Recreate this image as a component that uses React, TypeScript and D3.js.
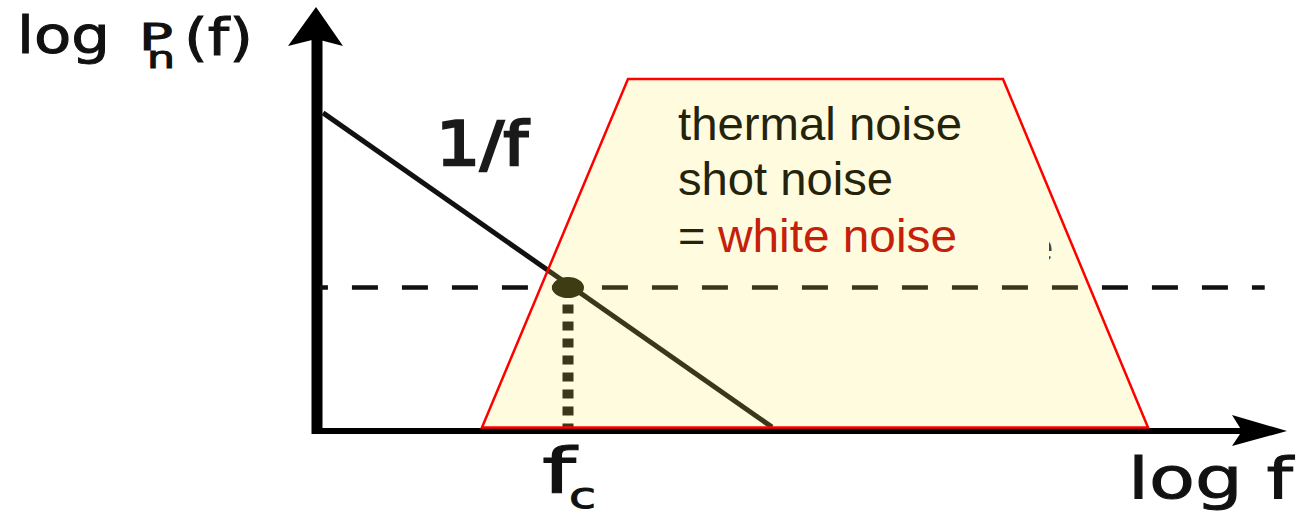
import React from "react";
import * as d3 from "d3";

// Conceptual units: log f on x (0..100), log Pn(f) on y (0..100)
const X_DOMAIN: [number, number] = [0, 100];
const Y_DOMAIN: [number, number] = [0, 100];

const oneOverFLine = [
  { x: 0.52, y: 75.5 },
  { x: 46.85, y: 0.7 },
];
const cornerFreq = { x: 25.8, y: 33.9 };
const noiseFloorX: [number, number] = [0.2, 97.7];
const whiteBand = [
  { x: 16.92, y: 0.6 },
  { x: 31.99, y: 83.57 },
  { x: 70.69, y: 83.57 },
  { x: 85.66, y: 0.6 },
];
const bandLines = ["thermal noise", "shot noise"];
const bandLastPrefix = "= ";
const bandLastHighlight = "white noise";
const slopeLabel = "1/f";
const yLabel = { pre: "log", p: "P", sub: "n", post: "(f)" };
const xLabel = "log f";
const fcLabel = { main: "f", sub: "c" };

const W = 1302;
const H = 513;

export default function App() {
  const x = d3.scaleLinear().domain(X_DOMAIN).range([318, 1287]);
  const y = d3.scaleLinear().domain(Y_DOMAIN).range([430, 10]);
  const line = d3
    .line<{ x: number; y: number }>()
    .x((d) => x(d.x))
    .y((d) => y(d.y));

  const axisY = y(0) + 1;
  const axisX = x(0) - 1;

  const trapPath = line(whiteBand) + "Z";
  const sans = "'DejaVu Sans', sans-serif";
  const arial = "'Liberation Sans', Arial, sans-serif";
  const labelStroke = { stroke: "#111", strokeWidth: 1 };

  return (
    <svg
      width={W}
      height={H}
      style={{ position: "absolute", left: 0, top: 0, background: "#fff" }}
    >
      <defs>
        <clipPath id="ghostClip">
          <rect x={1049} y={225} width={20} height={45} />
        </clipPath>
      </defs>
      {/* axes */}
      <line x1={axisX} y1={35} x2={axisX} y2={axisY + 3} stroke="#000" strokeWidth={11} />
      <path
        d={`M${axisX - 1},7 L${axisX - 29},46 L${axisX - 1},39 L${axisX + 26},46 Z`}
        fill="#000"
      />
      <line x1={axisX - 5} y1={axisY} x2={x(100) - 45} y2={axisY} stroke="#000" strokeWidth={6} />
      <path
        d={`M${x(100)},${axisY} L${x(100) - 55},${axisY - 16} L${x(100) - 45},${axisY} L${x(100) - 55},${axisY + 15} Z`}
        fill="#000"
      />

      {/* noise floor */}
      <line
        x1={x(noiseFloorX[0])}
        y1={y(cornerFreq.y)}
        x2={x(noiseFloorX[1])}
        y2={y(cornerFreq.y)}
        stroke="#111"
        strokeWidth={4.5}
        strokeDasharray="26 24"
        strokeDashoffset={18}
      />
      {/* 1/f line */}
      <path d={line(oneOverFLine) || ""} stroke="#111" strokeWidth={5} fill="none" />
      {/* corner frequency dotted drop */}
      <line
        x1={x(cornerFreq.x)}
        y1={y(cornerFreq.y)}
        x2={x(cornerFreq.x)}
        y2={y(0.6)}
        stroke="#111"
        strokeWidth={11}
        strokeDasharray="9 8"
      />
      <ellipse cx={x(cornerFreq.x)} cy={y(cornerFreq.y)} rx={16} ry={10.5} fill="#151505" />

      {/* ghost letter */}
      <text
        x={1030}
        y={262}
        fontFamily={arial}
        fontSize={42}
        fill="#222"
        clipPath="url(#ghostClip)"
      >
        e
      </text>

      {/* white noise band */}
      <path d={trapPath} fill="#ffeb50" fillOpacity={0.18} stroke="none" />
      <path d={trapPath} fill="none" stroke="#ff0000" strokeWidth={2.5} strokeLinejoin="miter" />

      {/* band text */}
      {bandLines.map((t, i) => (
        <text
          key={t}
          x={678}
          y={140 + i * 55}
          fontFamily={arial}
          fontSize={47}
          fill="#25230a"
          textLength={i === 0 ? 284 : 215}
          lengthAdjust="spacingAndGlyphs"
        >
          {t}
        </text>
      ))}
      <text x={678} y={252} fontFamily={arial} fontSize={47} fill="#25230a">
        {bandLastPrefix}
      </text>
      <text
        x={718}
        y={252}
        fontFamily={arial}
        fontSize={47}
        fill="#c4200a"
        textLength={239}
        lengthAdjust="spacingAndGlyphs"
      >
        {bandLastHighlight}
      </text>

      {/* 1/f label */}
      <text
        x={436}
        y={165}
        fontFamily={sans}
        fontSize={61}
        fill="#1a1a1a"
        stroke="#1a1a1a"
        strokeWidth={2.5}
        textLength={92}
        lengthAdjust="spacingAndGlyphs"
      >
        {slopeLabel}
      </text>

      {/* y label */}
      <text x={17} y={53} fontFamily={sans} fontSize={51} fill="#111" {...labelStroke} textLength={93} lengthAdjust="spacingAndGlyphs">
        {yLabel.pre}
      </text>
      <text x={139} y={50} fontFamily={sans} fontSize={38} fill="#111" {...labelStroke} textLength={34} lengthAdjust="spacingAndGlyphs">
        {yLabel.p}
      </text>
      <text x={147} y={68} fontFamily={sans} fontSize={30} fill="#111" {...labelStroke} textLength={28} lengthAdjust="spacingAndGlyphs">
        {yLabel.sub}
      </text>
      <text x={184} y={55} fontFamily={sans} fontSize={52} fill="#111" {...labelStroke} textLength={69} lengthAdjust="spacingAndGlyphs">
        {yLabel.post}
      </text>

      {/* fc label */}
      <text x={542} y={492} fontFamily={sans} fontSize={62} fill="#111" {...labelStroke} textLength={34} lengthAdjust="spacingAndGlyphs">
        {fcLabel.main}
      </text>
      <text x={569} y={508} fontFamily={sans} fontSize={36} fill="#111" {...labelStroke} textLength={27} lengthAdjust="spacingAndGlyphs">
        {fcLabel.sub}
      </text>

      {/* x label */}
      <text x={1128} y={498} fontFamily={sans} fontSize={57} fill="#111" {...labelStroke} textLength={165} lengthAdjust="spacingAndGlyphs">
        {xLabel}
      </text>
    </svg>
  );
}
